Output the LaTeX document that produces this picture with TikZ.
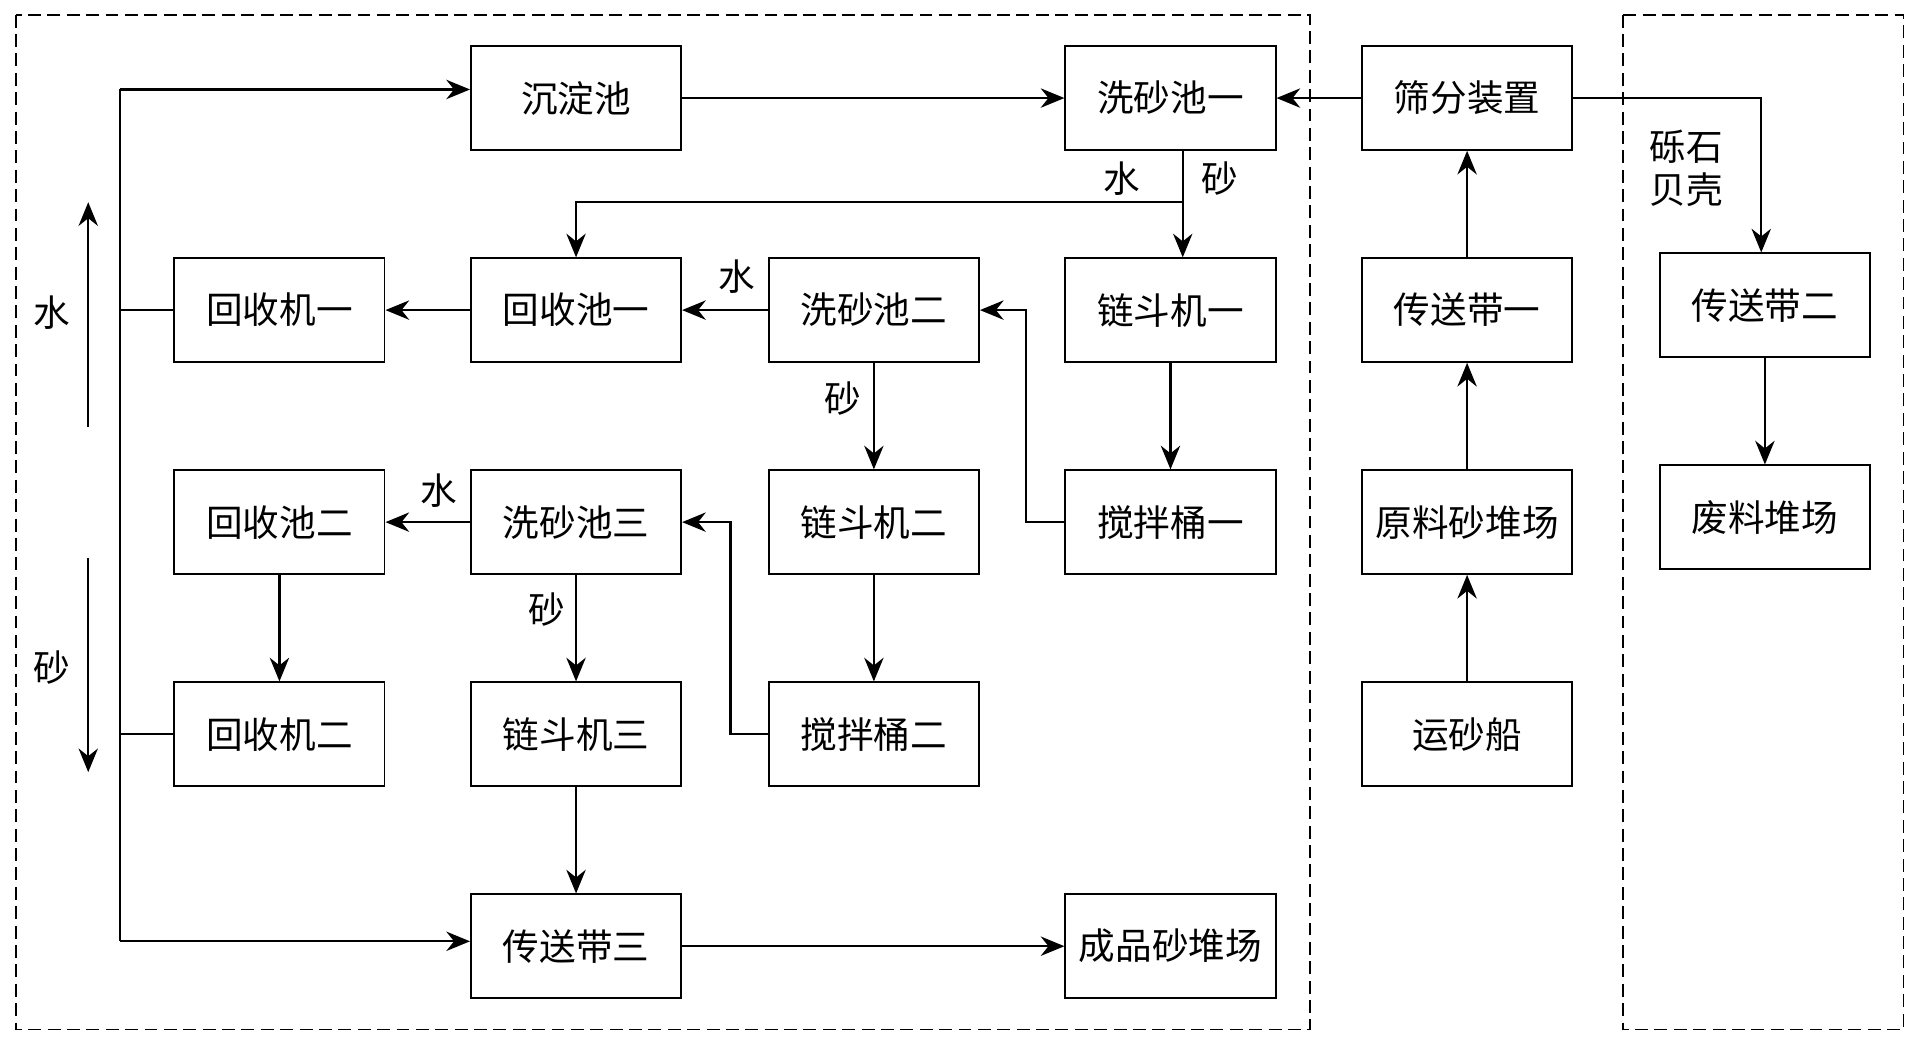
\documentclass[tikz,border=0pt]{standalone}
\usepackage{fontspec}
\setmainfont{Noto Sans CJK SC}
\usetikzlibrary{arrows.meta}
\begin{document}
\begin{tikzpicture}[x=0.02cm,y=-0.02cm,
  bx/.style={draw,line width=0.9pt,minimum width=3.43cm,minimum height=1.69cm,inner sep=0pt,font=\fontsize{17}{20}\selectfont},
  ar/.style={line width=1pt,-{Stealth[length=11pt,width=9pt]}},
  ln/.style={line width=1pt},
  dsh/.style={line width=0.8pt,dash pattern=on 6pt off 3pt},
  lb/.style={font=\fontsize{17}{20}\selectfont,inner sep=0pt}]
\useasboundingbox (0,0) rectangle (1560,849);
\draw[dsh] (13,12) rectangle (1069,840);
\draw[dsh] (1324,12) rectangle (1553,840);
\node[bx] (cdc) at (470,80) {沉淀池};
\node[bx] (xs1) at (955,80) {洗砂池一};
\node[bx] (sf) at (1197,80) {筛分装置};
\node[bx] (hj1) at (228,253) {回收机一};
\node[bx] (hc1) at (470,253) {回收池一};
\node[bx] (xs2) at (713,253) {洗砂池二};
\node[bx] (ld1) at (955,253) {链斗机一};
\node[bx] (cs1) at (1197,253) {传送带一};
\node[bx] (cs2) at (1440,249) {传送带二};
\node[bx] (hc2) at (228,426) {回收池二};
\node[bx] (xs3) at (470,426) {洗砂池三};
\node[bx] (ld2) at (713,426) {链斗机二};
\node[bx] (jb1) at (955,426) {搅拌桶一};
\node[bx] (yl) at (1197,426) {原料砂堆场};
\node[bx] (fl) at (1440,422) {废料堆场};
\node[bx] (hj2) at (228,599) {回收机二};
\node[bx] (ld3) at (470,599) {链斗机三};
\node[bx] (jb2) at (713,599) {搅拌桶二};
\node[bx] (ysc) at (1197,599) {运砂船};
\node[bx] (cs3) at (470,772) {传送带三};
\node[bx] (cp) at (955,772) {成品砂堆场};
\coordinate (vt) at (98,73);
\coordinate (vb) at (98,768);
\draw[ar] (cdc) -- (xs1);
\draw[ar] (sf) -- (xs1);
\draw[ar] (sf.east) -- (1437,80) -- (cs2.north -| 1437,0);
\draw[ar] (cs2) -- (fl);
\node[lb,align=center] at (1376,137) {砾石\\贝壳};
\draw[ar] (ysc) -- (yl);
\draw[ar] (yl) -- (cs1);
\draw[ar] (cs1) -- (sf);
\draw[ar] (xs1.south) ++(10,0) coordinate (s1) -- (ld1.north -| s1);
\draw[ar] (s1) -- (965,165) -- (470,165) -- (hc1.north);
\node[lb] at (915,146) {水};
\node[lb] at (995,146) {砂};
\draw[ar] (ld1) -- (jb1);
\draw[ar] (jb1.west) -- (837,426) -- (837,253) -- (xs2.east);
\draw[ar] (xs2) -- (hc1);
\node[lb] at (601,226) {水};
\draw[ar] (hc1) -- (hj1);
\draw[ar] (xs2) -- (ld2);
\node[lb] at (688,325) {砂};
\draw[ar] (ld2) -- (jb2);
\draw[ar] (jb2.west) -- (596,599) -- (596,426) -- (xs3.east);
\draw[ar] (xs3) -- (hc2);
\node[lb] at (358,400) {水};
\draw[ar] (xs3) -- (ld3);
\node[lb] at (446,497) {砂};
\draw[ar] (hc2) -- (hj2);
\draw[ar] (ld3) -- (cs3);
\draw[ar] (cs3) -- (cp);
\draw[ln] (hj1.west) -- (98,253);
\draw[ln] (hj2.west) -- (98,599);
\draw[ln] (vt) -- (vb);
\draw[ar] (vt) -- (cdc.west |- vt);
\draw[ar] (vb) -- (cs3.west |- vb);
\coordinate (wa) at (72,348); \coordinate (wb) at (72,165);
\draw[ar] (wa) -- (wb);
\coordinate (sa) at (72,455); \coordinate (sb) at (72,630);
\draw[ar] (sa) -- (sb);
\node[lb] at (42,255) {水};
\node[lb] at (42,545) {砂};
\end{tikzpicture}
\end{document}
